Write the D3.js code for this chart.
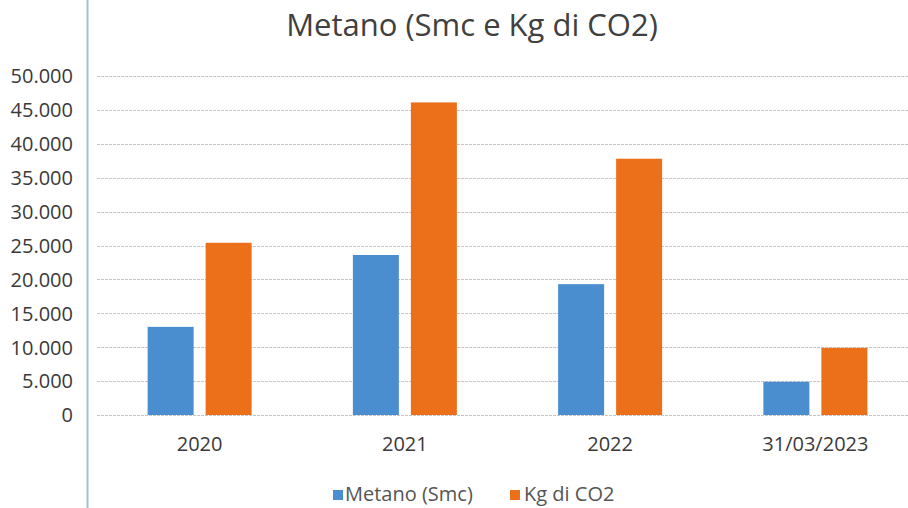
<!DOCTYPE html>
<html>
<head>
<meta charset="utf-8">
<script src="https://cdn.jsdelivr.net/npm/d3@7"></script>
<style>
  html, body { margin: 0; padding: 0; background: #ffffff; }
  svg { display: block; }
  text { font-family: "Open Sans", "Noto Sans", sans-serif; }
</style>
</head>
<body>
<svg id="chart" width="908" height="508"></svg>
<script>
// Categories and series
const categories = ["2020", "2021", "2022", "31/03/2023"];
const seriesNames = ["Metano (Smc)", "Kg di CO2"];
const metanoSmc = [13000, 23600, 19300, 4900];
const kgCO2 = [25400, 46100, 37800, 9900];
const yTicks = [0, 5000, 10000, 15000, 20000, 25000, 30000, 35000, 40000, 45000, 50000];
const colors = ["#4b8ed0", "#ec6f1a"];

const svg = d3.select("#chart");
const W = 908, H = 508;

const plot = { left: 97, right: 918, top: 76, bottom: 415 };

const x = d3.scaleBand().domain(categories).range([plot.left, plot.right]).paddingInner(0).paddingOuter(0);
const groupW = 104;
const xs = d3.scaleBand().domain(seriesNames).range([0, groupW]).paddingInner(0.207).paddingOuter(0);
const y = d3.scaleLinear().domain([0, 50000]).range([plot.bottom, plot.top]);

const fmt = v => d3.format(",")(v).replace(/,/g, ".");

// Left border line of the page frame
svg.append("line")
  .attr("x1", 87.5).attr("x2", 87.5).attr("y1", 0).attr("y2", H)
  .attr("stroke", "#9fc6c6").attr("stroke-width", 2);

// Title
svg.append("text")
  .attr("x", 472).attr("y", 36)
  .attr("text-anchor", "middle")
  .attr("font-size", 31)
  .attr("fill", "#404040")
  .text("Metano (Smc e Kg di CO2)");

// Horizontal gridlines
const yAxis = d3.axisLeft(y).tickValues(yTicks).tickFormat(fmt).tickSize(0).tickPadding(0);
const gGrid = svg.append("g");
gGrid.selectAll("line").data(yTicks).join("line")
  .attr("x1", plot.left).attr("x2", W)
  .attr("y1", d => Math.round(y(d)) + 0.5).attr("y2", d => Math.round(y(d)) + 0.5)
  .attr("stroke", "#c6c6c6").attr("stroke-width", 1)
  .attr("stroke-dasharray", "3 1");

// Y axis labels
const gY = svg.append("g").attr("transform", "translate(73,0)").call(yAxis);
gY.select(".domain").remove();
gY.selectAll("text")
  .attr("font-size", 20)
  .attr("fill", "#3a3a3a")
  .attr("font-family", "'Open Sans', sans-serif")
  .attr("dy", "0.34em");

// Bars
const rows = categories.map((c, i) => ({ cat: c, vals: [metanoSmc[i], kgCO2[i]] }));
const groups = svg.append("g").selectAll("g").data(rows).join("g")
  .attr("transform", d => `translate(${x(d.cat) + x.bandwidth() / 2 - groupW / 2},0)`);
groups.selectAll("rect").data(d => d.vals.map((v, j) => ({ s: seriesNames[j], v, j }))).join("rect")
  .attr("x", d => xs(d.s))
  .attr("width", xs.bandwidth())
  .attr("y", d => y(d.v))
  .attr("height", d => y(0) - y(d.v))
  .attr("fill", d => colors[d.j]);

// X axis labels
const xAxis = d3.axisBottom(x).tickSize(0).tickPadding(0);
const gX = svg.append("g").attr("transform", "translate(0,437)").call(xAxis);
gX.select(".domain").remove();
gX.selectAll("text")
  .attr("font-size", 20)
  .attr("fill", "#3a3a3a")
  .attr("font-family", "'Open Sans', sans-serif")
  .attr("dy", "0.72em");

// Legend
const legendItems = [
  { name: seriesNames[0], color: colors[0], sx: 333, tx: 345 },
  { name: seriesNames[1], color: colors[1], sx: 510, tx: 524 }
];
const gL = svg.append("g");
gL.selectAll("rect").data(legendItems).join("rect")
  .attr("x", d => d.sx).attr("y", 490).attr("width", 10).attr("height", 10)
  .attr("fill", d => d.color);
gL.selectAll("text").data(legendItems).join("text")
  .attr("x", d => d.tx).attr("y", 501)
  .attr("font-size", 20)
  .attr("fill", "#555555")
  .text(d => d.name);
</script>
</body>
</html>
